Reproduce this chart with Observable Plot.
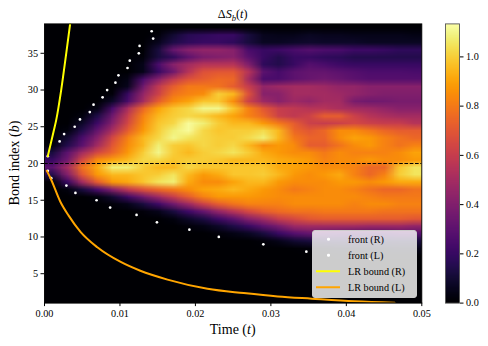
<!DOCTYPE html>
<html><head><meta charset="utf-8">
<script src="https://cdn.jsdelivr.net/npm/d3@7"></script>
<script src="https://cdn.jsdelivr.net/npm/@observablehq/plot@0.6"></script>
<style>
html,body{margin:0;padding:0;background:#fff}
#wrap{position:relative;width:488px;height:346px;overflow:hidden;font-family:"Liberation Serif",serif;color:#000}
.lab{position:absolute;white-space:nowrap;transform:translate(-50%,-50%)}
#legend{position:absolute;left:312px;top:229.5px;width:103px;height:66.5px;box-sizing:content-box;background:rgba(255,255,255,.8);border:1px solid #ccc;border-radius:3px;font-size:10.2px}
#legend .row{position:absolute;left:35px;white-space:nowrap;transform:translateY(-50%)}
#legend .ln{position:absolute;left:3px;width:24px;height:1.5px;transform:translateY(-50%)}
#legend .pt{position:absolute;left:14px;width:2.6px;height:2.6px;border-radius:50%;background:#fff;transform:translateY(-50%)}
</style></head><body><div id="wrap"></div>
<script>
const tMax = 0.05, bMin = 1, bMax = 39, vMax = 1.134;
const nCols = 25;
// rows from bond 38 (top) to bond 1, columns in equal time steps
const row38=[0,0,0,0,0,0,0,0,0,0,0,0,0,0,0,0,0,0,0,0,0,0,0,0,0];
const row37=[0,0,0,0,0,0,0,.02,.1,.16,.18,.2,.2,.12,.06,.05,.05,.07,.06,.06,.05,.05,.05,.05,.04];
const row36=[0,0,0,0,0,0,0,.06,.14,.18,.2,.2,.18,.12,.07,.07,.08,.09,.08,.08,.08,.07,.07,.07,.07];
const row35=[0,0,0,0,0,0,0,.12,.33,.42,.45,.45,.42,.25,.2,.22,.25,.28,.26,.25,.22,.22,.2,.18,.18];
const row34=[0,0,0,0,0,0,.02,.12,.18,.3,.38,.4,.42,.3,.2,.15,.2,.2,.18,.17,.15,.15,.15,.15,.15];
const row33=[0,0,0,0,0,0,.05,.25,.42,.5,.55,.55,.55,.4,.18,.15,.2,.28,.25,.22,.2,.2,.2,.2,.2];
const row32=[0,0,0,0,0,0,.05,.2,.35,.55,.68,.7,.7,.55,.3,.24,.3,.32,.32,.3,.28,.26,.26,.26,.25];
const row31=[0,0,0,0,0,.04,.25,.42,.58,.68,.72,.76,.75,.5,.25,.25,.3,.33,.35,.33,.3,.28,.28,.28,.28];
const row30=[0,0,0,0,0,.06,.35,.58,.72,.8,.8,.78,.72,.6,.45,.48,.5,.5,.48,.45,.45,.42,.42,.42,.42];
const row29=[0,0,0,0,.02,.2,.45,.62,.78,.82,.85,1,.95,.68,.42,.42,.5,.5,.5,.48,.45,.42,.4,.4,.4];
const row28=[0,0,0,0,.08,.25,.5,.72,.85,.9,.98,.98,.85,.62,.48,.42,.48,.45,.5,.5,.38,.35,.36,.38,.38];
const row27=[0,0,0,.04,.25,.52,.75,.9,.98,1.02,1.1,1.1,.98,.82,.7,.6,.58,.55,.55,.52,.5,.48,.45,.42,.42];
const row26=[0,0,.03,.14,.35,.6,.82,.95,1,1.02,1,.95,.9,.82,.75,.62,.58,.62,.72,.72,.62,.55,.52,.5,.5];
const row25=[0,0,.08,.22,.42,.65,.85,.98,1.02,1.12,1.08,1,.95,.95,.88,.8,.72,.62,.6,.62,.65,.62,.6,.6,.55];
const row24=[0,.03,.15,.32,.52,.72,.88,1,1.08,1.12,1.02,.98,1,1,1.03,.95,.75,.7,.75,.85,.85,.8,.75,.72,.72];
const row23=[0,.1,.25,.42,.65,.82,.95,1.02,1.1,1.05,1.02,1,1,1.03,1.08,.95,.8,.74,.74,.85,.9,.88,.82,.78,.75];
const row22=[.03,.15,.3,.5,.7,.85,.95,1.08,1,.98,1.02,1,1.02,.95,.85,.88,.85,.72,.72,.78,.85,.88,.82,.78,.82];
const row21=[.12,.3,.5,.65,.75,.88,1,1.1,1,.95,1,1.02,1.05,1,.92,.88,.85,.85,.8,.85,.82,.82,.82,.85,.9];
const row20=[.2,.35,.65,.85,.9,.95,1.02,1.02,.98,1,1,.98,.95,.95,.95,.92,.9,.88,.82,.85,.85,.88,.85,.85,.88];
const row19=[.3,.5,.78,.92,1.08,1.08,1,.95,.95,1.02,.98,.98,.98,.98,.98,.92,.9,.88,.85,.85,.82,.75,.75,.98,1.05];
const row18=[.15,.4,.7,.88,.95,.95,.98,1,1.05,.95,.88,.92,.98,.98,1,.95,.88,.85,.88,.92,.82,.75,.82,1,1.05];
const row17=[0,.2,.5,.72,.88,.92,.98,1.05,1.08,.92,.85,.85,.9,.95,.95,.88,.85,.85,.85,.88,.88,.85,.88,.92,.92];
const row16=[0,.03,.12,.25,.42,.58,.68,.75,.8,.85,.9,.92,.95,.92,.88,.85,.8,.82,.85,.85,.82,.78,.75,.75,.78];
const row15=[0,0,0,.03,.1,.22,.35,.48,.6,.72,.82,.88,.88,.88,.86,.85,.85,.85,.85,.85,.85,.82,.8,.8,.8];
const row14=[0,0,0,0,.02,.05,.12,.22,.35,.48,.62,.72,.78,.82,.82,.82,.85,.85,.85,.85,.82,.85,.85,.82,.82];
const row13=[0,0,0,0,0,0,.02,.05,.12,.22,.32,.45,.55,.65,.72,.76,.78,.78,.8,.8,.8,.8,.78,.78,.78];
const row12=[0,0,0,0,0,0,0,0,.03,.08,.13,.22,.3,.42,.5,.6,.65,.7,.72,.72,.72,.72,.72,.72,.7];
const row11=[0,0,0,0,0,0,0,0,0,.02,.04,.08,.14,.2,.3,.38,.48,.5,.5,.5,.5,.48,.48,.48,.45];
const row10=[0,0,0,0,0,0,0,0,0,0,0,.02,.04,.07,.12,.2,.28,.32,.3,.28,.25,.25,.25,.28,.28];
const row09=[0,0,0,0,0,0,0,0,0,0,0,0,0,0,.02,.05,.1,.12,.13,.14,.14,.13,.12,.12,.12];
const row08=[0,0,0,0,0,0,0,0,0,0,0,0,0,0,0,0,.01,.02,.03,.04,.04,.04,.04,.05,.05];
const row07=[0,0,0,0,0,0,0,0,0,0,0,0,0,0,0,0,0,0,0,.01,.01,.01,.01,.01,.01];
const row06=row38, row05=row38, row04=row38, row03=row38, row02=row38, row01=row38;
const rows=[row38,row37,row36,row35,row34,row33,row32,row31,row30,row29,row28,row27,row26,row25,row24,row23,row22,row21,row20,row19,row18,row17,row16,row15,row14,row13,row12,row11,row10,row09,row08,row07,row06,row05,row04,row03,row02,row01];
const values=rows.flat();

const frontRt=[.00044,.0020,.0026,.0040,.0047,.0060,.0065,.0077,.0083,.0094,.0098,.0110,.0113,.0125,.0126,.0144,.0142];
const frontRb=[21,23,24,25,26,27,28,29,30,31,32,33,34,35,36,37,38];
const frontLt=[.00044,.00089,.0029,.0041,.0069,.0087,.0122,.0149,.0192,.0231,.0290,.0347,.0432];
const frontLb=[19,18,17,16,15,14,13,12,11,10,9,8,7];
const lrRt=[.00044,.00119,.00155,.00221,.00288,.00341];
const lrRb=[21,24.3,25.9,30,35,39.1];
const lrLt=[.0003,.0008,.0021,.0032,.00477,.0070,.0101,.0127,.0163,.0216,.0264,.0309,.0354,.0411,.0464];
const lrLb=[19,18,14.8,12.9,10.7,8.6,6.6,5.4,4.2,2.95,2.36,1.9,1.6,1.25,1.04];
const xTicks=[0,.01,.02,.03,.04,.05];
const yTicks=[5,10,15,20,25,30,35];
const cTicks=[0,.2,.4,.6,.8,1];
const zip=(a,b)=>a.map((v,i)=>[v,b[i]]);
const colorOpts={type:"linear",scheme:"inferno",domain:[0,vMax]};
const baseStyle={fontFamily:"'Liberation Serif',serif",fontSize:"10.2px",background:"transparent",overflow:"visible",color:"#000"};

const main=Plot.plot({
  width:488,height:346,marginLeft:44,marginRight:66.7,marginTop:23.4,marginBottom:43.4,
  style:baseStyle,
  x:{domain:[0,tMax]},y:{domain:[bMin,bMax]},color:colorOpts,
  marks:[
    Plot.raster(values,{width:nCols,height:rows.length,x1:0,x2:tMax,y1:bMax,y2:bMin,fill:d=>d,imageRendering:"auto"}),
    Plot.ruleY([20],{stroke:"#000",strokeWidth:1,strokeDasharray:"3.7,1.6"}),
    Plot.dot(zip(frontRt,frontRb),{x:"0",y:"1",r:1.35,fill:"#fff",stroke:"none"}),
    Plot.dot(zip(frontLt,frontLb),{x:"0",y:"1",r:1.35,fill:"#fff",stroke:"none"}),
    Plot.line(zip(lrRt,lrRb),{x:"0",y:"1",stroke:"#ffff00",strokeWidth:2,curve:"monotone-x",clip:true}),
    Plot.line(zip(lrLt,lrLb),{x:"0",y:"1",stroke:"#ffa500",strokeWidth:2,curve:"monotone-x",clip:true}),
    Plot.frame({stroke:"#000",strokeWidth:.9}),
    Plot.axisX({ticks:xTicks,tickSize:3.5,tickPadding:3,tickFormat:d3.format(".2f"),label:null,stroke:"#000",fill:"#000"}),
    Plot.axisY({ticks:yTicks,tickSize:3.5,tickPadding:3,label:null,stroke:"#000",fill:"#000"})
  ]
});
const bar=Plot.plot({
  width:48,height:346,marginLeft:5,marginRight:29,marginTop:23.4,marginBottom:43.4,
  style:baseStyle,
  x:{domain:[0,1],axis:null},y:{domain:[0,vMax]},color:colorOpts,
  marks:[
    Plot.raster(d3.range(256).map(i=>(255-i)/255*vMax),{width:1,height:256,x1:0,x2:1,y1:vMax,y2:0,fill:d=>d,imageRendering:"auto"}),
    Plot.frame({stroke:"#555",strokeWidth:.9}),
    Plot.axisY({anchor:"right",ticks:cTicks,tickSize:3.5,tickPadding:3,tickFormat:d3.format(".1f"),label:null,stroke:"#000",fill:"#000"})
  ]
});
const wrap=document.getElementById("wrap");
main.style.position="absolute";main.style.left="0";main.style.top="0";
bar.style.position="absolute";bar.style.left="440px";bar.style.top="0";
wrap.append(main,bar);
wrap.insertAdjacentHTML("beforeend",`
<div class="lab" style="left:232.7px;top:13.5px;font-size:12.2px">Δ<i>S</i><sub style="font-size:8.5px;line-height:0"><i>b</i></sub>(<i>t</i>)</div>
<div class="lab" style="left:232.7px;top:330px;font-size:14px">Time (<i>t</i>)</div>
<div class="lab" style="left:15px;top:163px;font-size:14px;transform:translate(-50%,-50%) rotate(-90deg)">Bond index (<i>b</i>)</div>
<div id="legend">
 <span class="pt" style="top:8.5px"></span><span class="row" style="top:8.5px">front (R)</span>
 <span class="pt" style="top:24.5px"></span><span class="row" style="top:24.5px">front (L)</span>
 <span class="ln" style="top:40.5px;background:#ffff00"></span><span class="row" style="top:40.5px">LR bound (R)</span>
 <span class="ln" style="top:56.5px;background:#ffa500"></span><span class="row" style="top:56.5px">LR bound (L)</span>
</div>`);
</script></body></html>
